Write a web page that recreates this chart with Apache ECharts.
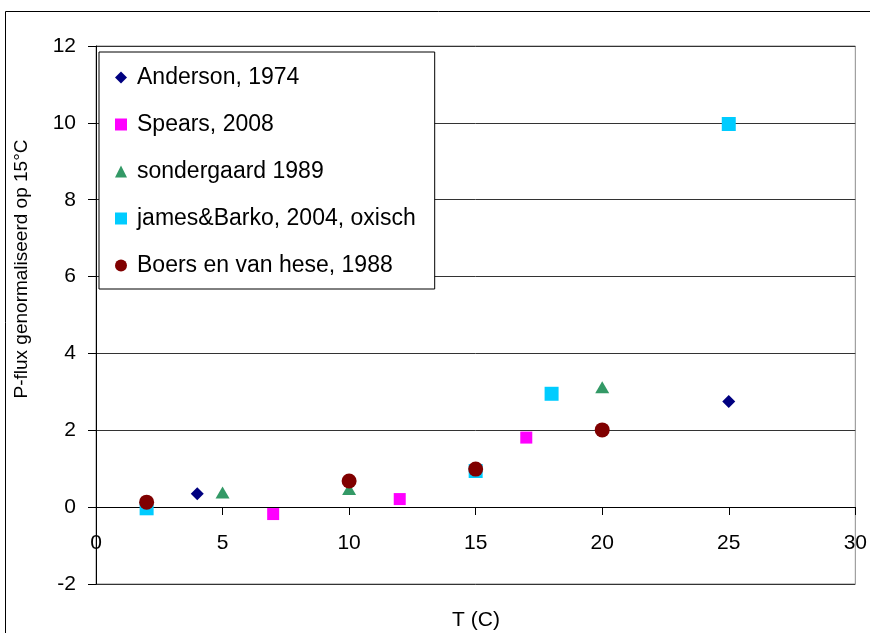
<!DOCTYPE html>
<html>
<head>
<meta charset="utf-8">
<script src="https://cdn.jsdelivr.net/npm/echarts@6/dist/echarts.min.js"></script>
<style>html,body{margin:0;padding:0;background:#fff}#c{width:870px;height:633px}</style>
</head>
<body>
<div id="c"></div>
<script>
const seriesNames = ['Anderson, 1974', 'Spears, 2008', 'sondergaard 1989', 'james&Barko, 2004, oxisch', 'Boers en van hese, 1988'];
const anderson = [[4, 0.35], [25, 2.75]];
const spears = [[7, -0.18], [12, 0.21], [17, 1.81]];
const sondergaard = [[5, 0.38], [10, 0.47], [20, 3.12]];
const jamesBarko = [[2, -0.03], [15, 0.94], [18, 2.95], [25, 9.97]];
const boers = [[2, 0.13], [10, 0.68], [15, 0.99], [20, 2.01]];
const xTicks = [0, 5, 10, 15, 20, 25, 30];
const yTicks = [-2, 0, 2, 4, 6, 8, 10, 12];

const FONT = 'Liberation Sans, Arial, sans-serif';
const chart = echarts.init(document.getElementById('c'), null, {renderer: 'canvas'});
const mk = (name, data, symbol, size, color) => ({
  name, type: 'scatter', data, symbol, symbolSize: size,
  itemStyle: {color, opacity: 1}, emphasis: {disabled: true}
});
chart.setOption({
  animation: false,
  backgroundColor: '#fff',
  textStyle: {fontFamily: FONT},
  grid: {left: 96, right: 13, top: 46, bottom: 49, show: true, borderColor: '#8c8c8c', borderWidth: 1, containLabel: false},
  xAxis: {
    type: 'value', min: xTicks[0], max: xTicks[xTicks.length - 1], interval: 5,
    position: 'bottom', offset: -77,
    axisLine: {show: true, onZero: false, lineStyle: {color: '#000', width: 1}},
    axisTick: {show: true, length: 8, lineStyle: {color: '#000'}},
    axisLabel: {fontSize: 21, color: '#000', margin: 26, fontFamily: FONT},
    splitLine: {show: false}
  },
  yAxis: {
    type: 'value', min: yTicks[0], max: yTicks[yTicks.length - 1], interval: 2,
    axisLine: {show: true, onZero: false, lineStyle: {color: '#000', width: 1}},
    axisTick: {show: true, length: 8, lineStyle: {color: '#000'}},
    axisLabel: {fontSize: 21, color: '#000', margin: 20, fontFamily: FONT},
    splitLine: {show: true, lineStyle: {color: '#333', width: 1}}
  },
  legend: {
    orient: 'vertical', left: 99, top: 52,
    padding: [14, 19, 12, 16], itemGap: 24, itemWidth: 12, itemHeight: 12, itemTextGap: 5,
    backgroundColor: '#fff', borderColor: '#000', borderWidth: 1,
    textStyle: {fontSize: 23, color: '#000', fontFamily: FONT, lineHeight: 20, padding: [0, 0, 0, 5]},
    data: seriesNames
  },
  graphic: [
    {type: 'rect', silent: true, shape: {x: 5.5, y: 11.5, width: 900, height: 700}, style: {fill: null, stroke: '#000', lineWidth: 1}, z: 100},
    {type: 'text', x: 22, y: 269, rotation: Math.PI / 2, style: {text: 'P-flux genormaliseerd op 15°C', font: '19px ' + FONT, fill: '#000', align: 'center', verticalAlign: 'middle'}},
    {type: 'text', x: 476, y: 620, style: {text: 'T (C)', font: '21px ' + FONT, fill: '#000', align: 'center', verticalAlign: 'middle'}}
  ],
  series: [
    mk(seriesNames[0], anderson, 'diamond', 13, '#000080'),
    mk(seriesNames[1], spears, 'rect', 12, '#FF00FF'),
    mk(seriesNames[2], sondergaard, 'triangle', [14, 12], '#339966'),
    mk(seriesNames[3], jamesBarko, 'rect', 14, '#00CCFF'),
    mk(seriesNames[4], boers, 'circle', 15, '#800000')
  ]
});
</script>
</body>
</html>
